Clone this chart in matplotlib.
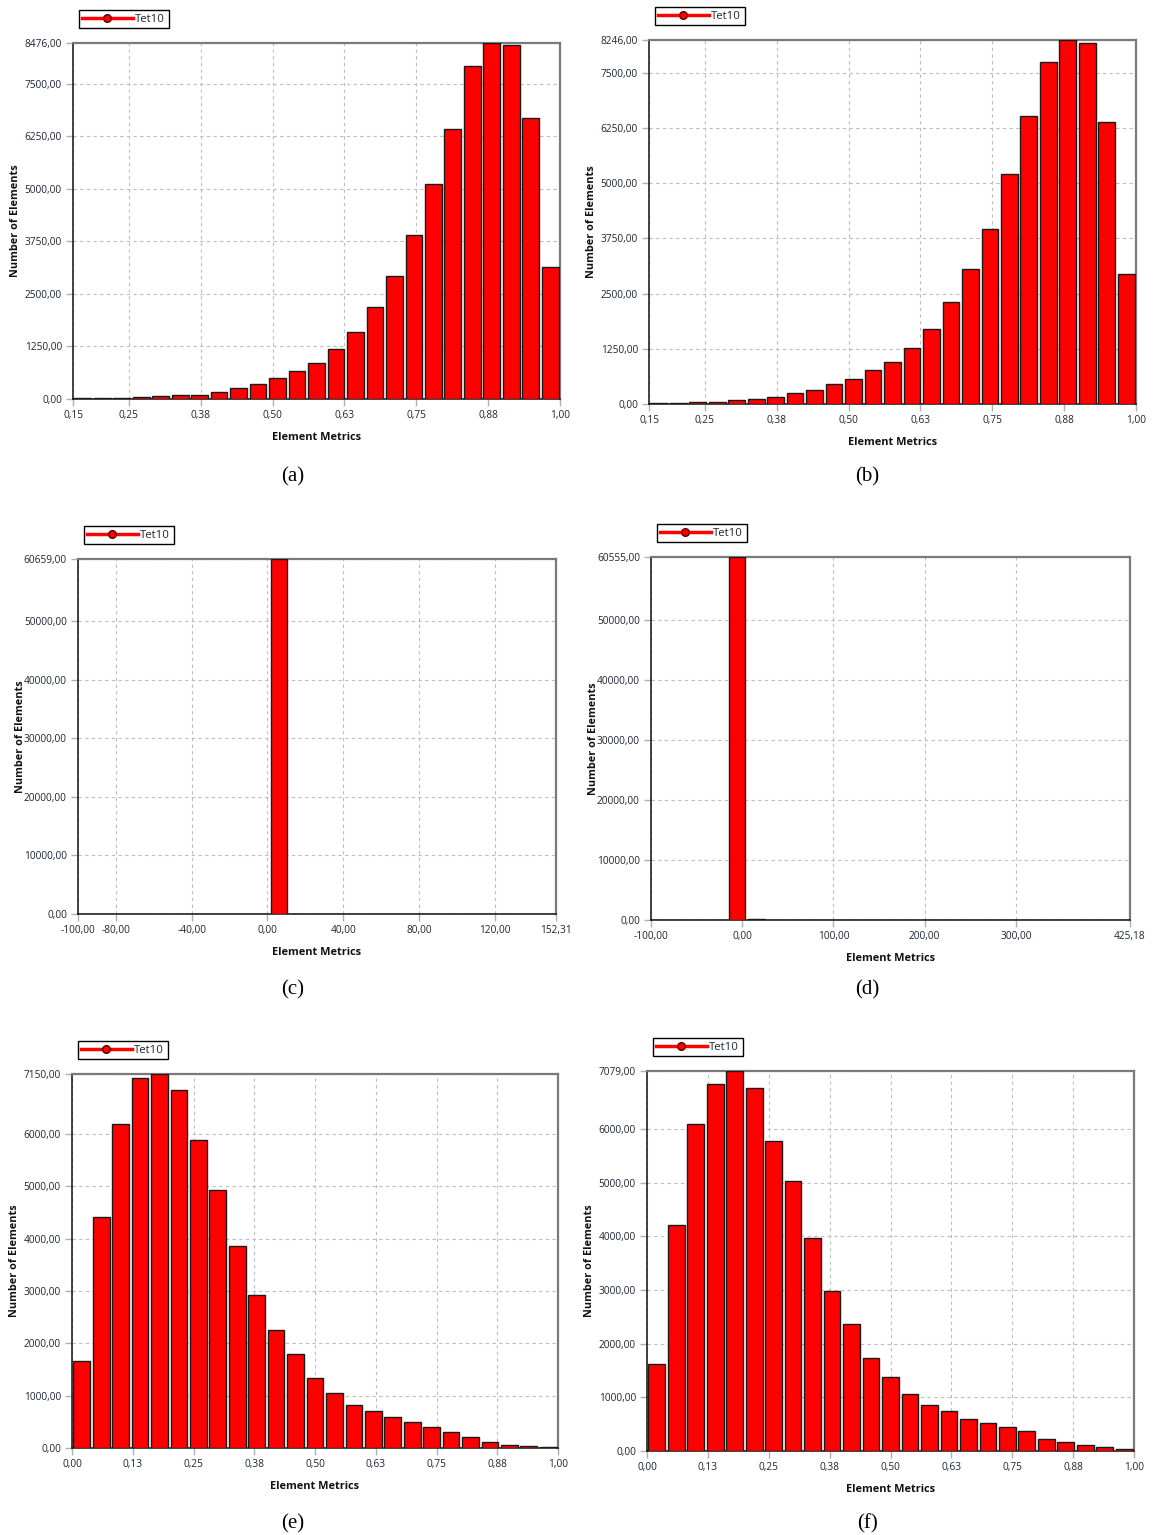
import numpy as np
import matplotlib
matplotlib.use('Agg')
import matplotlib.pyplot as plt
from matplotlib.lines import Line2D

plt.rcParams['font.family'] = ['Open Sans', 'DejaVu Sans']

# 1. Histogram counts (25 bins each) and axis ranges
a_counts = [16, 16, 18, 40, 63, 87, 87, 159, 254, 357, 492, 666, 864, 1189, 1594,
            2196, 2918, 3901, 5114, 6438, 7921, 8476, 8436, 6692, 3148]
a_range = (0.153, 1.0)
a_yticks = [0, 1250, 2500, 3750, 5000, 6250, 7500, 8476]
a_xticks = [0.153, 0.25, 0.375, 0.5, 0.625, 0.75, 0.875, 1.0]
a_xlabels = ['0,15', '0,25', '0,38', '0,50', '0,63', '0,75', '0,88', '1,00']

b_counts = [23, 23, 45, 45, 91, 113, 159, 249, 317, 446, 574, 771, 952, 1270, 1708,
            2320, 3061, 3975, 5207, 6530, 7739, 8246, 8170, 6394, 2948]
b_range = (0.153, 1.0)
b_yticks = [0, 1250, 2500, 3750, 5000, 6250, 7500, 8246]
b_xticks = [0.153, 0.25, 0.375, 0.5, 0.625, 0.75, 0.875, 1.0]
b_xlabels = ['0,15', '0,25', '0,38', '0,50', '0,63', '0,75', '0,88', '1,00']

c_counts = [0, 0, 0, 0, 0, 0, 0, 0, 0, 0, 60659, 0, 0, 0, 0,
            0, 0, 0, 0, 0, 0, 0, 0, 0, 0]
c_range = (-100.0, 152.31)
c_yticks = [0, 10000, 20000, 30000, 40000, 50000, 60659]
c_xticks = [-100, -80, -40, 0, 40, 80, 120, 152.31]
c_xlabels = ['-100,00', '-80,00', '-40,00', '0,00', '40,00', '80,00', '120,00', '152,31']

d_counts = [0, 0, 0, 0, 60555, 250, 0, 0, 0, 0, 0, 0, 0, 0, 0,
            0, 0, 0, 0, 0, 0, 0, 0, 0, 0]
d_range = (-100.0, 425.18)
d_yticks = [0, 10000, 20000, 30000, 40000, 50000, 60555]
d_xticks = [-100, 0, 100, 200, 300, 425.18]
d_xlabels = ['-100,00', '0,00', '100,00', '200,00', '300,00', '425,18']

e_counts = [1667, 4415, 6195, 7080, 7150, 6838, 5897, 4930, 3867, 2932, 2252, 1794,
            1336, 1043, 827, 712, 585, 496, 401, 299, 204, 115, 57, 38, 19]
e_range = (0.0, 1.0)
e_yticks = [0, 1000, 2000, 3000, 4000, 5000, 6000, 7150]
e_xticks = [0, 0.125, 0.25, 0.375, 0.5, 0.625, 0.75, 0.875, 1.0]
e_xlabels = ['0,00', '0,13', '0,25', '0,38', '0,50', '0,63', '0,75', '0,88', '1,00']

f_counts = [1613, 4206, 6086, 6837, 7079, 6769, 5782, 5031, 3977, 2972, 2358, 1737,
            1377, 1055, 862, 751, 589, 515, 447, 372, 230, 174, 105, 68, 31]
f_range = (0.0, 1.0)
f_yticks = [0, 1000, 2000, 3000, 4000, 5000, 6000, 7079]
f_xticks = [0, 0.125, 0.25, 0.375, 0.5, 0.625, 0.75, 0.875, 1.0]
f_xlabels = ['0,00', '0,13', '0,25', '0,38', '0,50', '0,63', '0,75', '0,88', '1,00']

W, H = 1155, 1535
fig = plt.figure(figsize=(W / 100, H / 100), dpi=100)
text_col = '#1c2533'


def add_panel(box, counts, xrange_, yticks, xticks, xlabels, caption, cap_xy):
    left, top, right, bottom = box
    ax = fig.add_axes([left / W, 1 - bottom / H, (right - left) / W, (bottom - top) / H])

    edges = np.linspace(xrange_[0], xrange_[1], len(counts) + 1)
    centers = (edges[:-1] + edges[1:]) / 2
    step = edges[1] - edges[0]
    ax.bar(centers, counts, width=step * 0.86, color='#ff0000', edgecolor='#1a1a1a',
           linewidth=1.0, zorder=3)

    ax.set_xlim(xrange_)
    ax.set_ylim(0, yticks[-1])
    ax.set_yticks(yticks)
    ax.set_yticklabels([f"{v:.2f}".replace('.', ',') for v in yticks])
    ax.set_xticks(xticks)
    ax.set_xticklabels(xlabels)
    ax.tick_params(axis='both', length=5, width=1, color='#b0b0b0', labelsize=7.3,
                   labelcolor=text_col, pad=3)
    ax.grid(True, color='#bdbdbd', linestyle=(0, (3, 3)), linewidth=0.8, zorder=0)

    for side in ['top', 'right']:
        ax.spines[side].set_color('#7a7a7a')
        ax.spines[side].set_linewidth(1.6)
    for side in ['left', 'bottom']:
        ax.spines[side].set_color('#111111')
        ax.spines[side].set_linewidth(1.1)

    ax.set_ylabel('Number of Elements', fontsize=7.8, fontweight='bold', color='#111111')
    ax.yaxis.set_label_coords(-52 / (right - left), 0.5)
    ax.set_xlabel('Element Metrics', fontsize=7.9, fontweight='bold', color='#111111')
    ax.xaxis.set_label_coords(0.5, -33 / (bottom - top))

    handle = Line2D([], [], color='#ff0000', linewidth=2.5, marker='o', markersize=5.5,
                    markerfacecolor='#ff0000', markeredgecolor='#550000')
    leg = ax.legend([handle], ['Tet10'], loc='lower left',
                    bbox_to_anchor=(6 / (right - left), 1 + 15 / (bottom - top)),
                    borderaxespad=0, fancybox=False, framealpha=1, fontsize=8.2,
                    handlelength=4.4, handletextpad=0.25, borderpad=0.3)
    leg.get_frame().set_edgecolor('black')
    leg.get_frame().set_linewidth(1.0)
    for t in leg.get_texts():
        t.set_color(text_col)

    fig.text(cap_xy[0] / W, 1 - cap_xy[1] / H, caption, fontsize=15,
             family='Liberation Serif', ha='center', va='center')
    return ax


# 2. Six panels
add_panel((73, 43, 560, 399), a_counts, a_range, a_yticks, a_xticks, a_xlabels, '(a)', (293, 477))
add_panel((649, 40, 1136, 404), b_counts, b_range, b_yticks, b_xticks, b_xlabels, '(b)', (867, 477))
add_panel((78, 559, 556, 914), c_counts, c_range, c_yticks, c_xticks, c_xlabels, '(c)', (293, 990))
add_panel((651, 557, 1130, 920), d_counts, d_range, d_yticks, d_xticks, d_xlabels, '(d)', (867, 990))
add_panel((72, 1074, 558, 1448), e_counts, e_range, e_yticks, e_xticks, e_xlabels, '(e)', (293, 1524))
add_panel((647, 1071, 1134, 1451), f_counts, f_range, f_yticks, f_xticks, f_xlabels, '(f)', (867, 1524))

fig.savefig('out.png', dpi=100, facecolor='white')
